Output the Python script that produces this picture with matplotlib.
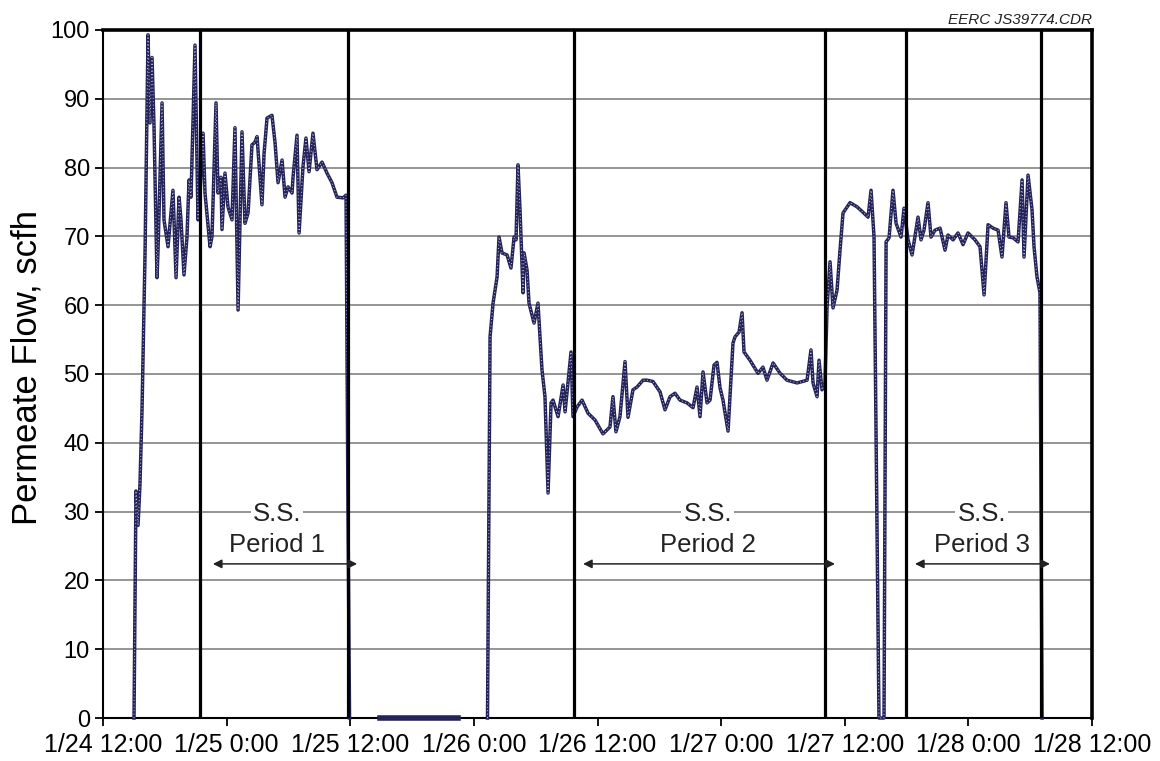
import numpy as np
import matplotlib
matplotlib.use("Agg")
import matplotlib.pyplot as plt
import matplotlib.dates as mdates
import pandas as pd

plt.rcParams["font.family"] = ["Liberation Sans", "DejaVu Sans"]

# ── Data ──────────────────────────────────────────────────────────────────────
START = pd.Timestamp("2006-01-24 12:00")
END = pd.Timestamp("2006-01-28 12:00")

# hours since 1/24 12:00, permeate flow (scfh); NaN = break in the trace
hours = [
    3.01, 3.20, 3.40, 3.59, 3.79, 4.08, 4.37, 4.56, 4.76, 4.95, 5.24, 5.34,
    5.73, 5.92, 6.31, 6.79, 7.09, 7.38, 7.57, 7.86, 8.15, 8.35, 8.54, 8.93,
    9.22, 9.42, 9.71, 9.90, 10.39, 10.58, 10.97, 11.16, 11.45, 11.55, 11.84,
    12.13, 12.52, 12.81, 13.11, 13.49, 13.78, 14.08, 14.46, 14.75, 14.95,
    15.14, 15.43, 15.63, 15.92, 16.40, 16.70, 16.99, 17.38, 17.67, 17.96,
    18.35, 18.44, 18.83, 19.03, 19.41, 19.70, 20.00, 20.38, 20.77, 21.26,
    21.74, 22.23, 22.71, 23.30, 23.59, 23.78, 23.93,
    24.50,
    26.89, 34.46,
    35.00,
    37.32, 37.57, 37.86, 38.25, 38.44, 38.73, 39.22, 39.60, 39.90, 40.09,
    40.28, 40.48, 40.77, 40.87, 41.16, 41.35, 41.84, 42.22, 42.61, 42.90,
    43.20, 43.49, 43.68, 44.17, 44.66, 44.85, 45.43, 45.62, 46.01, 46.50,
    47.08, 47.76, 48.53, 49.21, 49.50, 49.79, 50.18, 50.67, 50.96, 51.44,
    51.83, 52.42, 52.81, 53.39, 54.07, 54.55, 55.04, 55.52, 56.01, 56.69,
    57.27, 57.66, 57.95, 58.24, 58.63, 58.92, 59.31, 59.60, 59.89, 60.18,
    60.67, 61.15, 61.35, 61.74, 62.03, 62.22, 62.80, 63.58, 64.06, 64.45,
    65.04, 65.72, 66.39, 67.37, 68.34, 68.72, 68.92, 69.31, 69.50, 69.79,
    70.08, 70.28, 70.57, 70.86, 71.25, 71.54, 71.83, 72.51, 73.19, 73.77,
    74.26, 74.55, 74.84, 75.32, 75.81, 76.01, 76.30, 76.68, 76.98, 77.46,
    77.75, 78.14, 78.53, 79.11, 79.40, 79.69, 80.08, 80.37, 80.76, 81.25,
    81.73, 82.02, 82.51, 82.99, 83.48, 83.96, 84.64, 85.13, 85.52, 85.91,
    86.39, 86.88, 87.26, 87.65, 87.94, 88.33, 88.82, 89.21, 89.40, 89.79,
    90.18, 90.37, 90.66, 90.95, 91.15,
]
flow = [
    0, 33, 28, 34, 45, 67.6, 99.3, 86.5, 96, 86, 64, 68,
    89.4, 72.4, 68.5, 76.7, 64, 75.7, 72.4, 64.4, 69.9, 78.2, 75.7, 97.8,
    72.4, 76.3, 85, 76.3, 68.5, 70, 89.4, 76.3, 78.6, 71, 79.2,
    74.3, 72.4, 85.8, 59.3, 85.2, 71.9, 73.4, 83.3, 83.7, 84.5,
    80.6, 74.6, 82, 87.2, 87.6, 83.6, 77.8, 81.1, 75.7, 77.2,
    76.3, 78.5, 84.7, 70.5, 80.1, 84.3, 79.4, 85, 79.7, 80.8,
    79.2, 77.8, 75.7, 75.6, 76, 30, 0,
    np.nan,
    0, 0,
    np.nan,
    0, 55.4, 60.3, 64.1, 69.9, 67.6, 67.3, 65.4, 69.9, 69.5,
    80.4, 73.8, 61.8, 67.6, 65.1, 60.3, 57.4, 60.3, 50.6, 46.7,
    32.7, 45.8, 46.2, 43.8, 48.4, 44.5, 53.2, 43.8, 45.2, 46.2,
    44.3, 43.3, 41.3, 42.3, 46.7, 41.6, 43.8, 51.8, 43.7, 47.7,
    48.1, 49.1, 49.1, 48.9, 47.4, 44.8, 46.7, 47.2, 46.2, 45.8,
    45.1, 48.1, 43.8, 50.3, 45.8, 46.2, 51.3, 51.7, 48, 46.2,
    41.7, 54.5, 55.4, 56.1, 58.9, 53.2, 52, 50.1, 51, 49.1,
    51.6, 50.1, 49.1, 48.7, 49.1, 53.5, 48.7, 46.7, 52, 47.7,
    48.7, 59.7, 66.3, 59.6, 62.2, 68, 73.4, 74.9, 74.3, 73.5,
    72.8, 76.7, 69.9, 0, 0, 69.2, 69.8, 76.7, 71.9, 69.9,
    74.1, 69.5, 67.3, 72.8, 69.5, 70.9, 74.9, 69.9, 70.9, 71.2,
    68, 70.2, 69.5, 70.5, 68.8, 70.5, 69.5, 68.5, 61.5, 71.7,
    71.2, 70.9, 67, 74.9, 69.9, 69.8, 69.2, 78.2, 67, 78.9,
    73.8, 68.5, 64.1, 61.8, 0,
]

# steady-state period boundaries
boundaries = ["2006-01-24 21:25", "2006-01-25 11:47", "2006-01-26 09:43",
              "2006-01-27 10:05", "2006-01-27 17:57", "2006-01-28 07:03"]

period_labels = ["Period 1", "Period 2", "Period 3"]
arrow_start = ["2006-01-24 22:40", "2006-01-26 10:36", "2006-01-27 18:49"]
arrow_end = ["2006-01-25 12:40", "2006-01-27 11:03", "2006-01-28 07:55"]
label_center = ["2006-01-25 04:54", "2006-01-26 22:42", "2006-01-28 01:18"]

t = START + pd.to_timedelta(hours, unit="h")
flow = np.array(flow, dtype=float)

# ── Plot ──────────────────────────────────────────────────────────────────────
fig = plt.figure(figsize=(11.6, 7.61), dpi=100)
ax = fig.add_axes([0.0888, 0.0565, 0.8526, 0.9041])

ax.set_xlim(START, END)
ax.set_ylim(0, 100)
ax.set_yticks(np.arange(0, 101, 10))
ax.yaxis.grid(True, color="#8c8c8c", linewidth=1.3)
ax.set_axisbelow(True)

ax.plot(t, flow, color="#24245a", linewidth=2.5, clip_on=False, zorder=3)
ax.plot(t, flow, color="#c9c9dd", linewidth=0.7, linestyle=(0, (1, 2.5)),
        clip_on=False, zorder=3)
# idle stretch at zero sits on the axis and shows as a heavier bar
idle = (np.array(hours) > 26) & (np.array(hours) < 35)
ax.plot(t[idle], flow[idle], color="#24245a", linewidth=4, clip_on=False, zorder=3)

for b in boundaries:
    ax.axvline(pd.Timestamp(b), color="black", linewidth=2.3, zorder=4)

for lab, a0, a1, c in zip(period_labels, arrow_start, arrow_end, label_center):
    ax.annotate("", xy=(pd.Timestamp(a0), 22.4), xytext=(pd.Timestamp(a1), 22.4),
                arrowprops=dict(arrowstyle="<|-|>", color="#222222", lw=1.1,
                                mutation_scale=13, shrinkA=0, shrinkB=0),
                zorder=5)
    ax.text(pd.Timestamp(c), 29.6, "S.S.", ha="center", va="center",
            fontsize=18.5, color="#222222", zorder=5,
            bbox=dict(facecolor="white", edgecolor="none", pad=1.5))
    ax.text(pd.Timestamp(c), 25.2, lab, ha="center", va="center",
            fontsize=18.5, color="#222222", zorder=5)

ax.xaxis.set_major_locator(mdates.HourLocator(byhour=[0, 12]))
ax.xaxis.set_major_formatter(plt.FuncFormatter(
    lambda v, pos: (lambda d: f"{d.month}/{d.day} {d.hour}:{d.minute:02d}")(mdates.num2date(v))))

ax.tick_params(axis="both", direction="out", length=6, width=1.3, colors="black")
ax.tick_params(axis="x", labelsize=18, pad=5)
ax.tick_params(axis="y", labelsize=17)

for side in ["left", "bottom"]:
    ax.spines[side].set_linewidth(1.5)
for side in ["top", "right"]:
    ax.spines[side].set_linewidth(2.6)

ax.set_ylabel("Permeate Flow, scfh", fontsize=25, labelpad=5)
ax.yaxis.set_label_coords(-0.060, 0.51)

ax.text(1.0, 1.005, "EERC JS39774.CDR", transform=ax.transAxes,
        ha="right", va="bottom", fontsize=11, style="italic", color="#222222")

fig.savefig("out.png", dpi=100)
